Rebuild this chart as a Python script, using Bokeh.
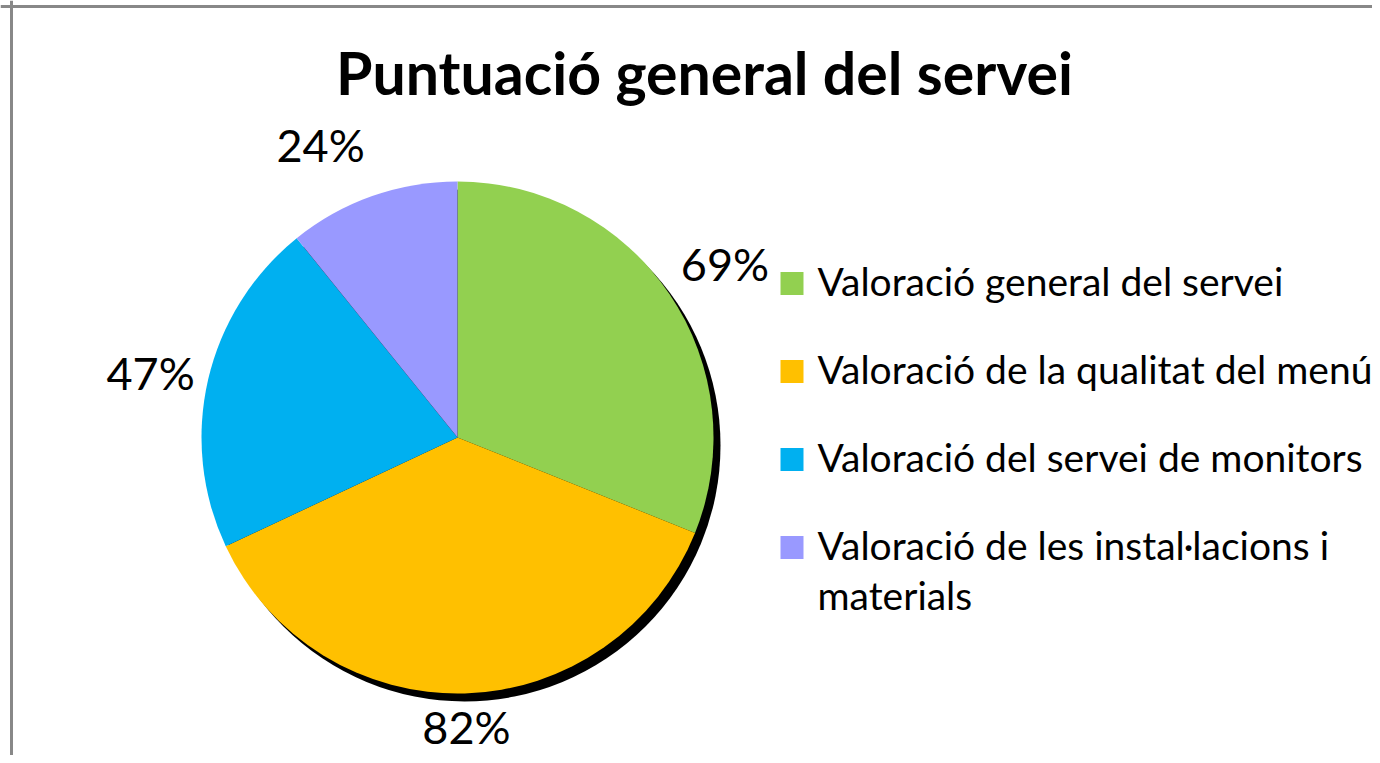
import math
from bokeh.plotting import figure
from bokeh.models import Range1d, Span, ColumnDataSource
from bokeh.core.properties import value
from bokeh.embed import file_html
from bokeh.resources import INLINE

title = "Puntuació general del servei"
categories = [
    "Valoració general del servei",
    "Valoració de la qualitat del menú",
    "Valoració del servei de monitors",
    "Valoració de les instal·lacions i\nmaterials",
]
values = [69, 82, 47, 24]
labels = ["69%", "82%", "47%", "24%"]
colors = ["#92D050", "#FFC000", "#00B0F0", "#9999FF"]

W, H = 1372, 755
p = figure(width=W, height=H, output_backend="svg", toolbar_location=None,
           x_range=Range1d(0, W), y_range=Range1d(0, H), min_border=0)
p.axis.visible = False
p.grid.visible = False
p.outline_line_color = None
p.background_fill_color = "white"
p.border_fill_color = "white"

# chart border (top & left visible; right/bottom cropped)
p.add_layout(Span(location=11, dimension="height", line_color="#888888", line_width=3))
p.add_layout(Span(location=H - 6, dimension="width", line_color="#888888", line_width=3))

cx, cy, R = 457, 318, 256
total = float(sum(values))
starts, ends, mids = [], [], []
cum = 0.0
for v in values:
    a0 = math.pi / 2 - 2 * math.pi * cum / total
    cum += v
    a1 = math.pi / 2 - 2 * math.pi * cum / total
    starts.append(a0)
    ends.append(a1)
    mids.append((a0 + a1) / 2)

# shadow
p.circle(x=[cx + 7], y=[cy - 8], radius=R, fill_color="black", line_color=None)

src = ColumnDataSource(dict(start=starts, end=ends, color=colors, cat=categories, val=values))
p.wedge(x=cx, y=cy, radius=R, start_angle="start", end_angle="end", direction="clock",
        fill_color="color", line_color=None, source=src)

# data labels (outside end), small layout nudges per label
lr = 318
nudge = [(4, -5), (0, 28), (3, -7), (-31, -7)]
lx = [cx + lr * math.cos(m) + d[0] for m, d in zip(mids, nudge)]
ly = [cy + lr * math.sin(m) + d[1] for m, d in zip(mids, nudge)]
p.text(x=lx, y=ly, text=labels, text_align="center", text_baseline="middle",
       text_font=value("Lato"), text_font_size="45px", text_color="black")

# title
p.text(x=[704], y=[H - 72], text=[title], text_align="center", text_baseline="middle",
       text_font=value("Lato"), text_font_style="bold", text_font_size="59px",
       text_color="black")

# legend
lg_x, lg_y0, lg_dy = 791.5, H - 283, 88
ys = [lg_y0 - i * lg_dy for i in range(len(categories))]
p.rect(x=[lg_x] * 4, y=ys, width=23, height=23, fill_color=colors, line_color=None)
p.text(x=[817] * 4, y=[y + 26 for y in ys], text=categories,
       text_align="left", text_baseline="top", text_line_height=1.1,
       text_font=value("Lato"), text_font_size="39px", text_color="black")

open("out.html", "w").write(file_html(p, INLINE))
